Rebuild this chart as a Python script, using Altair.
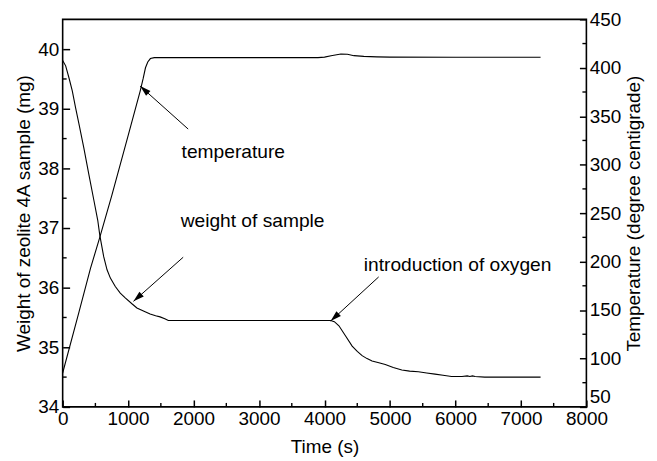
import altair as alt
import pandas as pd

# ---- data ----
w_time = [0, 46, 96, 147, 197, 248, 324, 400, 476, 536, 567, 627, 678, 729, 804, 880, 956,
          1058, 1134, 1234, 1336, 1420, 1488, 1560, 1614, 2500, 3500, 4094, 4150, 4220, 4322,
          4422, 4500, 4574, 4650, 4726, 4830, 4928, 5050, 5181, 5300, 5434, 5560, 5688, 5810,
          5940, 6100, 6180, 6220, 6260, 6300, 6447, 6800, 7300]
w_val = [39.81, 39.72, 39.52, 39.30, 39.02, 38.75, 38.34, 37.90, 37.47, 37.13, 36.88, 36.52,
         36.30, 36.16, 36.02, 35.91, 35.83, 35.73, 35.66, 35.61, 35.56, 35.53, 35.51, 35.48,
         35.45, 35.45, 35.45, 35.45, 35.43, 35.36, 35.19, 35.02, 34.93, 34.86, 34.81, 34.77,
         34.74, 34.71, 34.66, 34.62, 34.60, 34.59, 34.57, 34.55, 34.53, 34.51, 34.51, 34.52,
         34.51, 34.52, 34.51, 34.50, 34.50, 34.50]

t_time = [0, 250, 425, 567, 750, 1000, 1184, 1230, 1265, 1300, 1340, 1400, 2500, 3900, 4000,
          4100, 4250, 4350, 4450, 4600, 4800, 5000, 6000, 7300]
t_val = [85, 148, 193, 225, 268, 330, 376, 389, 400, 406, 409.5, 410.5, 410.5, 410.5, 411,
         412.5, 414.3, 414, 412.5, 411.8, 411.3, 411, 410.8, 410.8]

x_major = [0, 1000, 2000, 3000, 4000, 5000, 6000, 7000, 8000]
x_minor = [500, 1500, 2500, 3500, 4500, 5500, 6500, 7500]
w_major = [34, 35, 36, 37, 38, 39, 40]
w_minor = [34.5, 35.5, 36.5, 37.5, 38.5, 39.5]
temp_major = [50, 100, 150, 200, 250, 300, 350, 400, 450]
temp_minor = [75, 125, 175, 225, 275, 325, 375, 425]

ann_text = ["temperature", "weight of sample", "introduction of oxygen"]
ann_x = [1817, 1802, 4600]
ann_y = [38.18, 37.02, 36.28]
arrow_x0 = [1917, 1841, 4827]
arrow_y0 = [38.66, 36.51, 36.18]
arrow_x1 = [1184, 1082, 4094]
arrow_y1 = [39.38, 35.77, 35.44]
arrow_angle = [312, 228, 227]

W, H = 527, 390
FONT = "Liberation Sans"
XDOM = [0, 8000]
WDOM = [34, 40.5]
TDOM = [50, 450]

xs = alt.Scale(domain=XDOM, nice=False, zero=False)
ws = alt.Scale(domain=WDOM, nice=False, zero=False)
ts = alt.Scale(domain=TDOM, nice=False, zero=False)

df_w = pd.DataFrame({"time": w_time, "weight": w_val})
df_t = pd.DataFrame({"time": t_time, "temp": t_val})
df_ann = pd.DataFrame({"text": ann_text, "x": ann_x, "y": ann_y})
df_arr = pd.DataFrame({"x0": arrow_x0, "y0": arrow_y0, "x1": arrow_x1, "y1": arrow_y1,
                       "angle": arrow_angle})

x_axis = alt.Axis(values=x_major, format="d", title="Time (s)", tickSize=7, offset=-7,
                  domain=False, ticks=True, labelFlush=False, labelOverlap=False,
                  labelPadding=3, titlePadding=9, zindex=1)
w_axis = alt.Axis(values=w_major, format="d", title="Weight of zeolite 4A sample (mg)",
                  tickSize=7, offset=-7, domain=False, ticks=True, labelOverlap=False,
                  labelPadding=4, titlePadding=4, labelFlush=False, zindex=1)
t_axis = alt.Axis(values=temp_major, format="d", orient="right",
                  title="Temperature (degree centigrade)", tickSize=7, offset=-7,
                  domain=False, ticks=True, labelOverlap=False, labelPadding=3,
                  titlePadding=4, titleAngle=270, titleBaseline="top", labelFlush=False,
                  labelBaseline=alt.condition("datum.value == 50", alt.value("bottom"),
                                              alt.value("middle")),
                  zindex=1)

weight_line = alt.Chart(df_w).mark_line(color="black", strokeWidth=1.1).encode(
    x=alt.X("time:Q", scale=xs, axis=x_axis),
    y=alt.Y("weight:Q", scale=ws, axis=w_axis),
)

texts = alt.Chart(df_ann).mark_text(align="left", baseline="alphabetic", font=FONT,
                                    fontSize=19.3, color="black").encode(
    x=alt.X("x:Q", scale=xs, axis=x_axis),
    y=alt.Y("y:Q", scale=ws, axis=w_axis),
    text="text:N",
)

arrows = alt.Chart(df_arr).mark_rule(color="black", strokeWidth=1).encode(
    x=alt.X("x0:Q", scale=xs, axis=x_axis),
    y=alt.Y("y0:Q", scale=ws, axis=w_axis),
    x2="x1:Q",
    y2="y1:Q",
)

heads = alt.Chart(df_arr).mark_point(shape="M0,0L-0.3,1L0.3,1Z", filled=True, size=480,
                                     color="black", opacity=1, strokeWidth=0).encode(
    x=alt.X("x1:Q", scale=xs, axis=x_axis),
    y=alt.Y("y1:Q", scale=ws, axis=w_axis),
    angle=alt.Angle("angle:Q", scale=None),
)

xminor = alt.Chart(pd.DataFrame({"v": x_minor})).mark_rule(color="black", strokeWidth=1.4).encode(
    x=alt.X("v:Q", scale=xs, axis=x_axis),
    y=alt.value(H),
    y2=alt.value(H - 4),
)

wminor = alt.Chart(pd.DataFrame({"v": w_minor})).mark_rule(color="black", strokeWidth=1.4).encode(
    y=alt.Y("v:Q", scale=ws, axis=w_axis),
    x=alt.value(0),
    x2=alt.value(4),
)

temp_line = alt.Chart(df_t).mark_line(color="black", strokeWidth=1.1).encode(
    x=alt.X("time:Q", scale=xs, axis=x_axis),
    y=alt.Y("temp:Q", scale=ts, axis=t_axis),
)

tminor = alt.Chart(pd.DataFrame({"v": temp_minor})).mark_rule(color="black", strokeWidth=1.4).encode(
    y=alt.Y("v:Q", scale=ts, axis=t_axis),
    x=alt.value(W - 4),
    x2=alt.value(W),
)

left = alt.layer(weight_line, xminor, wminor, arrows, heads, texts)
right = alt.layer(temp_line, tminor)

chart = alt.layer(left, right).resolve_scale(y="independent").properties(
    width=W, height=H,
    padding={"left": 6, "top": 1, "right": 5, "bottom": 0},
).configure_view(
    stroke="black", strokeWidth=1.6
).configure_axis(
    labelFont=FONT, titleFont=FONT, labelFontSize=19, titleFontSize=19,
    titleFontWeight="normal", labelColor="black", titleColor="black",
    tickColor="black", tickWidth=1.5, grid=False,
)

chart.save("out.html", embed_options={"renderer": "svg", "actions": False})
